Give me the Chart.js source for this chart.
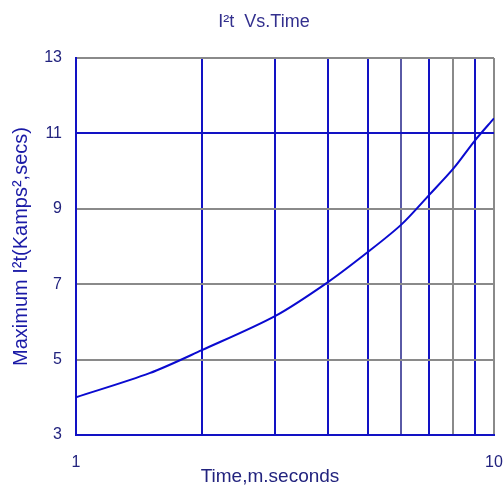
<!DOCTYPE html>
<html>
<head>
<meta charset="utf-8">
<title>I²t Vs.Time</title>
<script src="https://cdn.jsdelivr.net/npm/chart.js@4/dist/chart.umd.min.js"></script>
<style>
  html, body { margin: 0; padding: 0; background: #fff; }
  #wrap { width: 504px; height: 490px; }
</style>
</head>
<body>
<div id="wrap"><canvas id="i2tChart" width="504" height="490"></canvas></div>
<script>
'use strict';

/* ── DATA ── */
const timeMs   = [1, 1.5, 2, 3, 4, 5, 6, 7, 8, 9, 10];
const maxI2t   = [4.0, 4.64, 5.25, 6.16, 7.05, 7.86, 8.58, 9.37, 10.07, 10.81, 11.40];
const yTicks   = [3, 5, 7, 9, 11, 13];
const xLabels  = [1, 10];

const BLUE  = '#1212c4';
const GREY  = '#8a8a8a';
const NAVY  = '#22237e';

// grid line colours as seen in the picture
const xGridColour = { 6: '#5a5aa6', 8: GREY, 10: GREY };
const yGridColour = { 3: BLUE, 11: BLUE };

/* ── Title + x title drawn as text on the canvas ── */
const textPlugin = {
  id: 'texts',
  afterDraw(chart) {
    const ctx = chart.ctx;
    ctx.save();
    ctx.textAlign = 'center';
    ctx.textBaseline = 'middle';
    ctx.fillStyle = '#33308e';
    ctx.font = "18px 'Liberation Sans', Arial, sans-serif";
    ctx.fillText('I²t  Vs.Time', 264, 22);
    ctx.fillStyle = NAVY;
    ctx.font = "19px 'Liberation Sans', Arial, sans-serif";
    ctx.fillText('Time,m.seconds', 270, 477);
    ctx.restore();
  },
};

new Chart(document.getElementById('i2tChart'), {
  type: 'line',
  data: {
    datasets: [{
      data: timeMs.map((t, i) => ({ x: t, y: maxI2t[i] })),
      borderColor: '#0a0ad0',
      borderWidth: 2,
      pointRadius: 0,
      tension: 0.3,
      fill: false,
    }],
  },
  options: {
    responsive: false,
    animation: false,
    layout: { padding: { top: 58, right: 10, bottom: 0, left: 0 } },
    plugins: {
      legend: { display: false },
      tooltip: { enabled: false },
    },
    scales: {
      x: {
        type: 'logarithmic',
        min: 1,
        max: 10,
        afterFit(scale) {
          scale.height = 55;
          scale.paddingLeft = 0;
          scale.paddingRight = 0;
        },
        afterBuildTicks(scale) {
          scale.ticks = [1, 2, 3, 4, 5, 6, 7, 8, 9, 10].map(v => ({ value: v }));
        },
        grid: {
          drawTicks: false,
          lineWidth: 2,
          color: ctx => (ctx.tick && xGridColour[ctx.tick.value]) || BLUE,
        },
        border: { color: BLUE, width: 2 },
        ticks: {
          autoSkip: false,
          maxRotation: 0,
          padding: 18,
          color: NAVY,
          font: { family: "'Liberation Sans', Arial, sans-serif", size: 16 },
          callback: v => (xLabels.includes(v) ? String(v) : ''),
        },
      },
      y: {
        min: 3,
        max: 13,
        afterFit(scale) {
          scale.width = 76;
          scale.paddingTop = 0;
          scale.paddingBottom = 0;
        },
        afterBuildTicks(scale) {
          scale.ticks = yTicks.map(v => ({ value: v }));
        },
        grid: {
          drawTicks: false,
          lineWidth: 2,
          color: ctx => (ctx.tick && yGridColour[ctx.tick.value]) || GREY,
        },
        border: { color: BLUE, width: 2 },
        ticks: {
          padding: 14,
          color: NAVY,
          font: { family: "'Liberation Sans', Arial, sans-serif", size: 16 },
        },
        title: {
          display: true,
          text: 'Maximum I²t(Kamps²,secs)',
          color: '#1a1aa6',
          padding: { top: 9, bottom: 0 },
          font: { family: "'Liberation Sans', Arial, sans-serif", size: 20 },
        },
      },
    },
  },
  plugins: [textPlugin],
});
</script>
</body>
</html>
